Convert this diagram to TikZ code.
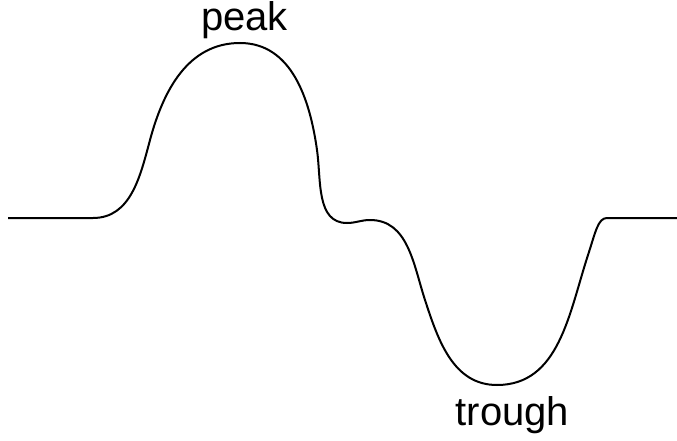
\documentclass[tikz,border=0pt]{standalone}
\usepackage{fontspec}
\setmainfont{Liberation Sans}
\begin{document}
\begin{tikzpicture}[x=1pt,y=1pt,
  wave/.style={line width=2pt,black,line join=round},
  lbl/.style={anchor=base,inner sep=0pt,text height=28pt,text depth=8pt,font=\fontsize{40}{48}\selectfont}]
\useasboundingbox (0,0) rectangle (677,440);
\coordinate (L) at (8,222);
\coordinate (A) at (93,222);
\coordinate (B) at (150,300);
\coordinate (P) at (240,397);
\coordinate (C) at (317,290);
\coordinate (D) at (347,217);
\coordinate (E) at (370,220);
\coordinate (F) at (425,140);
\coordinate (T) at (497,55);
\coordinate (G) at (588,185);
\coordinate (H) at (607,222);
\coordinate (R) at (677,222);
\draw[wave] (L) -- (A)
  to[out=0,in=-105] (B)
  to[out=75,in=180] (P)
  to[out=0,in=98] (C)
  to[out=-82,in=180] (D)
  to[out=0,in=180] (E)
  to[out=0,in=108] (F)
  to[out=-72,in=180] (T)
  to[out=0,in=-108] (G)
  .. controls (595.5,208) and (598,222) .. (H)
  -- (R);
\node[lbl] (peak) at (244.5,409) {peak};
\node[lbl] (trough) at (512.5,15) {trough};
\end{tikzpicture}
\end{document}
